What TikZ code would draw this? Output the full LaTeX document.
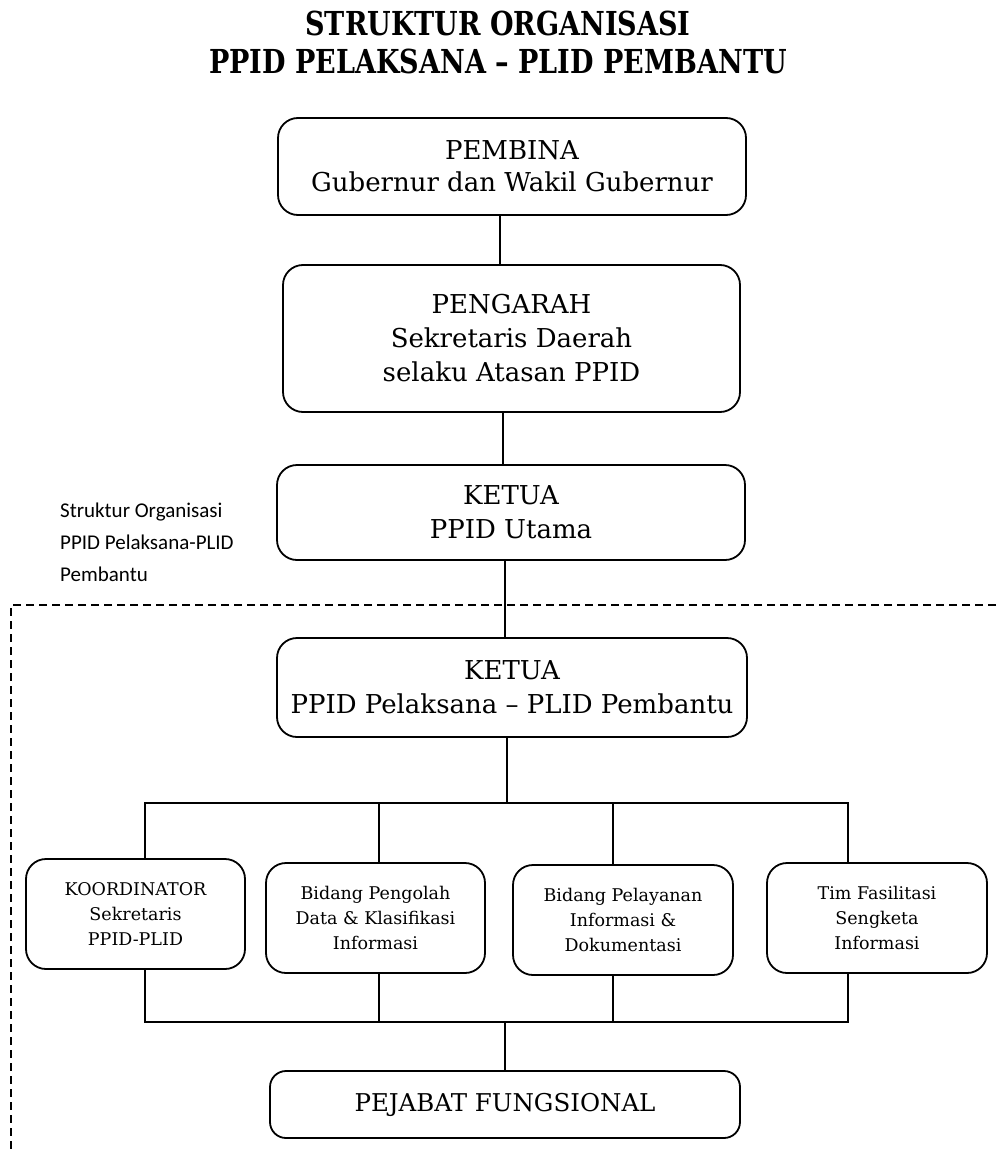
\documentclass[tikz,border=0pt]{standalone}
\usepackage{fontspec}
\setmainfont{DejaVu Serif}
\newfontfamily\titlefont{DejaVu Serif}[FakeStretch=0.82]
\newfontfamily\sidefont{Carlito}
\begin{document}
\begin{tikzpicture}[x=1pt,y=-1pt,
  box/.style={draw, line width=1.8pt, rounded corners=20pt, align=center, inner sep=0pt},
  bigbox/.style={box, font=\fontsize{26}{34}\selectfont},
  smallbox/.style={box, font=\fontsize{17.5}{25}\selectfont, minimum width=219pt, minimum height=110pt},
  conn/.style={line width=1.8pt},
  frame/.style={line width=1.6pt, dash pattern=on 8pt off 5pt}
]
\useasboundingbox (0,0) rectangle (996,1153);

\node[align=center, inner sep=0pt, font=\titlefont\fontsize{33}{38}\selectfont\bfseries] (title) at (498,42)
  {STRUKTUR ORGANISASI\\PPID PELAKSANA – PLID PEMBANTU};

\node[bigbox, minimum width=468pt, minimum height=97pt, font=\fontsize{26}{32}\selectfont] (pembina) at (512,166.5)
  {PEMBINA\\Gubernur dan Wakil Gubernur};
\node[bigbox, minimum width=457pt, minimum height=147pt] (pengarah) at (511.5,338.5)
  {PENGARAH\\Sekretaris Daerah\\selaku Atasan PPID};
\node[bigbox, minimum width=468pt, minimum height=95pt] (ketua) at (511,512.5)
  {KETUA\\PPID Utama};
\node[bigbox, minimum width=470pt, minimum height=99pt] (pelaksana) at (512,687.5)
  {KETUA\\PPID Pelaksana – PLID Pembantu};

\node[smallbox] (koord) at (135.5,914) {KOORDINATOR\\Sekretaris\\PPID-PLID};
\node[smallbox] (pengolah) at (375.5,918) {Bidang Pengolah\\Data \& Klasifikasi\\Informasi};
\node[smallbox, minimum width=220pt] (pelayanan) at (623,920) {Bidang Pelayanan\\Informasi \&\\Dokumentasi};
\node[smallbox, minimum width=220pt] (tim) at (877,918) {Tim Fasilitasi\\Sengketa\\Informasi};

\node[box, rounded corners=16pt, font=\fontsize{24.5}{30}\selectfont, minimum width=470pt, minimum height=67pt] (pejabat) at (505,1104.5)
  {PEJABAT FUNGSIONAL};

\node[anchor=north west, align=left, inner sep=0pt, font=\sidefont\fontsize{21}{32}\selectfont] (side) at (60,503)
  {Struktur Organisasi\\PPID Pelaksana-PLID\\Pembantu};

% dashed frame
\coordinate (fr) at (996,605);
\coordinate (fc) at (11,605);
\coordinate (fb) at (11,1153);
\draw[frame] (fr) -- (fc) -- (fb);

% vertical chain
\draw[conn] (500,0 |- pembina.south) -- (500,0 |- pengarah.north);
\draw[conn] (503,0 |- pengarah.south) -- (503,0 |- ketua.north);
\draw[conn] (505,0 |- ketua.south) -- (505,0 |- pelaksana.north);

% top bus
\coordinate (tb) at (507,803);
\draw[conn] (507,0 |- pelaksana.south) -- (tb);
\draw[conn] (145,0 |- koord.north) -- (145,803) -- (848,803) -- (848,0 |- tim.north);
\draw[conn] (379,803) -- (379,0 |- pengolah.north);
\draw[conn] (613,803) -- (613,0 |- pelayanan.north);

% bottom bus
\draw[conn] (145,0 |- koord.south) -- (145,1022) -- (848,1022) -- (848,0 |- tim.south);
\draw[conn] (379,0 |- pengolah.south) -- (379,1022);
\draw[conn] (613,0 |- pelayanan.south) -- (613,1022);
\coordinate (bb) at (505,1022);
\draw[conn] (bb) -- (505,0 |- pejabat.north);
\end{tikzpicture}
\end{document}
